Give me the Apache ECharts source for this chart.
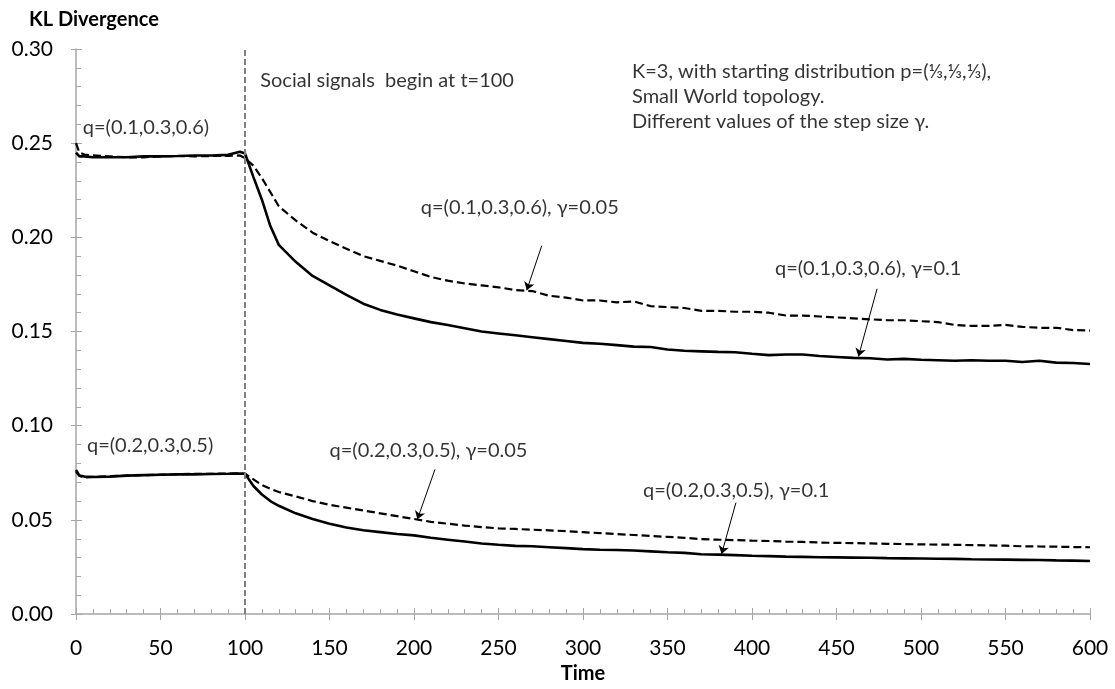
<!DOCTYPE html>
<html><head><meta charset="utf-8">
<script src="https://cdn.jsdelivr.net/npm/echarts/dist/echarts.min.js"></script>
<style>html,body{margin:0;padding:0;background:#fff}#c{width:1115px;height:689px}</style>
</head><body><div id="c"></div>
<script>
const time = [0,2,5,10,20,30,40,50,60,70,80,90,97,100,105,110,115,
  120,130,140,150,160,170,180,190,200,210,220,230,240,250,260,270,280,290,300,
  310,320,330,340,350,360,370,380,390,400,410,420,430,440,450,460,470,480,490,500,
  510,520,530,540,550,560,570,580,590,600];

// q=(0.1,0.3,0.6), γ=0.1 (solid)
const q1g10 = [0.245,0.243,0.243,0.2425,0.2425,0.2425,0.243,0.243,0.2432,0.2435,0.2435,0.2438,0.2455,0.2445,0.232,0.220,0.206,
  0.196,0.187,0.1795,0.1745,0.1695,0.1648,0.1615,0.159,0.157,0.155,0.1535,0.1518,0.150,0.149,0.148,0.147,0.146,0.145,0.144,
  0.1435,0.1428,0.142,0.1418,0.1405,0.1398,0.1395,0.1392,0.139,0.1382,0.1375,0.1378,0.1378,0.137,0.1365,0.136,0.1358,0.1352,0.1355,0.135,
  0.1348,0.1345,0.1348,0.1345,0.1345,0.1338,0.1345,0.1335,0.1333,0.1328];
// q=(0.1,0.3,0.6), γ=0.05 (dashed)
const q1g05 = [0.250,0.245,0.244,0.2435,0.243,0.2425,0.2425,0.243,0.2432,0.243,0.2432,0.2432,0.2435,0.242,0.238,0.2315,0.224,
  0.2165,0.209,0.2025,0.198,0.194,0.190,0.1875,0.185,0.182,0.179,0.177,0.1755,0.1745,0.1735,0.172,0.1715,0.169,0.168,0.1665,
  0.1665,0.1655,0.166,0.1635,0.163,0.1625,0.161,0.161,0.1605,0.1605,0.160,0.1585,0.1585,0.158,0.1575,0.157,0.1565,0.156,0.156,0.1555,
  0.155,0.1535,0.153,0.153,0.1535,0.1525,0.152,0.152,0.1508,0.1505];
// q=(0.2,0.3,0.5), γ=0.1 (solid)
const q2g10 = [0.0765,0.0735,0.073,0.0728,0.073,0.0735,0.0738,0.074,0.0742,0.0742,0.0744,0.0745,0.0746,0.0745,0.068,0.0635,0.060,
  0.0575,0.0535,0.0505,0.048,0.046,0.0445,0.0435,0.0425,0.0418,0.0405,0.0395,0.0385,0.0375,0.0368,0.0362,0.036,0.0355,0.035,0.0345,
  0.0342,0.034,0.0338,0.0333,0.0328,0.0325,0.0318,0.0316,0.0313,0.031,0.0308,0.0305,0.0304,0.0302,0.0301,0.030,0.0299,0.0297,0.0296,0.0295,
  0.0294,0.0293,0.0291,0.029,0.0289,0.0288,0.0287,0.0285,0.0284,0.0282];
// q=(0.2,0.3,0.5), γ=0.05 (dashed)
const q2g05 = [0.0755,0.0735,0.0725,0.0728,0.0732,0.0735,0.0738,0.074,0.0742,0.0745,0.0745,0.0746,0.0747,0.0745,0.0715,0.0685,0.0665,
  0.0648,0.0625,0.060,0.058,0.0565,0.055,0.0535,0.052,0.0505,0.049,0.048,0.047,0.0462,0.0455,0.0452,0.0448,0.0445,0.044,0.0435,
  0.043,0.0425,0.042,0.0415,0.041,0.0405,0.0398,0.0395,0.0393,0.039,0.0388,0.0385,0.0383,0.038,0.0378,0.0377,0.0375,0.0373,0.0372,0.037,
  0.0369,0.0368,0.0366,0.0365,0.0363,0.036,0.0359,0.0358,0.0356,0.0355];

const annoText = ['q=(0.1,0.3,0.6)','q=(0.2,0.3,0.5)','Social signals  begin at t=100',
  'K=3, with starting distribution p=(⅓,⅓,⅓),','Small World topology.','Different values of the step size γ.',
  'q=(0.1,0.3,0.6), γ=0.05','q=(0.1,0.3,0.6), γ=0.1','q=(0.2,0.3,0.5), γ=0.05','q=(0.2,0.3,0.5), γ=0.1'];
const annoT = [4, 6.5, 109, 329, 329, 329, 204, 413.6, 150, 335.5];
const annoV = [0.2583, 0.0893, 0.2832, 0.2879, 0.2746, 0.2613, 0.2158, 0.1835, 0.087, 0.0655];

const arrowFrom = [[275.6,0.1956],[474,0.1727],[212.4,0.0768],[390.5,0.0592]];
const arrowTo   = [[266.7,0.1719],[463,0.1368],[202,0.0503],[382,0.0319]];
const signalStart = 100;
const yTicks = [0,0.05,0.10,0.15,0.20,0.25,0.30];

const pair = arr => time.map((t,i)=>[t,arr[i]]);
const axisGray = '#a6a6a6';
const chart = echarts.init(document.getElementById('c'));
chart.setOption({
  animation:false,
  textStyle:{fontFamily:'Lato'},
  title:{text:'KL Divergence', left:24, top:5, textStyle:{fontSize:20, fontWeight:'bold', color:'#000', fontFamily:'Lato'}},
  grid:{left:76, right:25, top:49, bottom:72},
  xAxis:[{type:'value', min:0, max:600, interval:50,
      axisLine:{lineStyle:{color:axisGray, width:1.5}},
      axisTick:{show:true, inside:true, length:6, lineStyle:{color:axisGray}},
      minorTick:{show:true, splitNumber:5, length:5, lineStyle:{color:axisGray}},
      splitLine:{show:false},
      axisLabel:{fontSize:21, color:'#000', margin:24},
      name:'Time', nameLocation:'middle', nameGap:41, nameTextStyle:{fontWeight:'bold', fontSize:20, color:'#000'}},
    {type:'value', min:0, max:600, interval:50, position:'bottom',
      axisLine:{show:false}, axisTick:{show:true, inside:false, length:6, lineStyle:{color:axisGray}},
      axisLabel:{show:false}, splitLine:{show:false}}],
  yAxis:[{type:'value', min:yTicks[0], max:yTicks[yTicks.length-1], interval:0.05,
      axisLine:{show:true, lineStyle:{color:axisGray, width:1.5}},
      axisTick:{show:true, inside:true, length:6, lineStyle:{color:axisGray}},
      minorTick:{show:true, splitNumber:5, length:5, lineStyle:{color:axisGray}},
      splitLine:{show:false},
      axisLabel:{fontSize:21, color:'#000', margin:23, formatter:v=>v.toFixed(2)}},
    {type:'value', min:0, max:0.30, interval:0.05, position:'left',
      axisLine:{show:false}, axisTick:{show:true, inside:false, length:5, lineStyle:{color:axisGray}},
      axisLabel:{show:false}, splitLine:{show:false}}],
  series:[
    {type:'line', name:'q1 g0.1', data:pair(q1g10), showSymbol:false, lineStyle:{color:'#000', width:2.6}, z:3},
    {type:'line', name:'q1 g0.05', data:pair(q1g05), showSymbol:false, lineStyle:{color:'#000', width:2.2, type:[8,4]}, z:3},
    {type:'line', name:'q2 g0.1', data:pair(q2g10), showSymbol:false, lineStyle:{color:'#000', width:2.6}, z:3},
    {type:'line', name:'q2 g0.05', data:pair(q2g05), showSymbol:false, lineStyle:{color:'#000', width:2.2, type:[8,4]}, z:3},
    {type:'scatter', name:'annotations', symbolSize:0, silent:true, z:5,
      data:annoText.map((s,i)=>({value:[annoT[i],annoV[i]], name:s})),
      label:{show:true, position:'right', distance:0, formatter:'{b}', fontSize:20, color:'#000', fontFamily:'Lato'},
      markLine:{silent:true, animation:false, label:{show:false}, symbol:['none','arrow'], symbolSize:8,
        data:[[{xAxis:signalStart, yAxis:0, symbol:'none', lineStyle:{color:'#808080', width:2, type:[6,3]}},
               {xAxis:signalStart, yAxis:0.30, symbol:'none'}]].concat(
          arrowFrom.map((f,i)=>[{coord:f, lineStyle:{color:'#000', width:1, type:'solid'}},{coord:arrowTo[i]}]))
      }}
  ]
});
</script></body></html>
